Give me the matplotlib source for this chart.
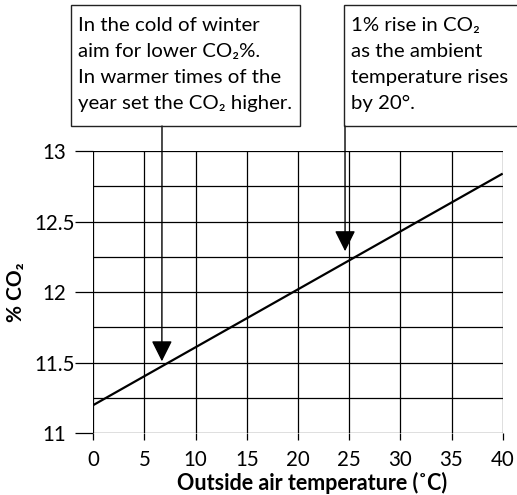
import matplotlib
matplotlib.use("Agg")
import matplotlib.pyplot as plt
from matplotlib.patches import Rectangle
import numpy as np

plt.rcParams['font.family'] = ['Lato', 'DejaVu Sans']

# data
temps = [0, 40]
co2 = [11.2, 12.84]
x_ticks = [0, 5, 10, 15, 20, 25, 30, 35, 40]
y_ticks = [11, 11.5, 12, 12.5, 13]
y_minor = [11.25, 11.75, 12.25, 12.75]
arrow_pts = [(6.7, 11.51), (24.6, 12.29)]
notes = [
    "In the cold of winter\naim for lower CO₂%.\nIn warmer times of the\nyear set the CO₂ higher.",
    "1% rise in CO₂\nas the ambient\ntemperature rises\nby 20°.",
]

W, H = 517, 495
fig = plt.figure(figsize=(W / 100, H / 100), dpi=100)
ax = fig.add_axes([93.3 / W, 1 - 433.3 / H, 409.4 / W, 282.3 / H])

ax.plot(temps, co2, color='black', lw=1.6, solid_capstyle='butt')
ax.set_xlim(0, 40)
ax.set_ylim(11, 13)
ax.set_xticks(x_ticks)
ax.set_yticks(y_ticks)
ax.set_yticks(y_minor, minor=True)
ax.set_yticklabels([f"{v:g}" for v in y_ticks])
ax.grid(True, which='both', color='black', lw=0.9)
ax.set_axisbelow(True)
for s in ax.spines.values():
    s.set_visible(False)
ax.tick_params(axis='y', which='major', length=13, width=0.9, pad=15, labelsize=14.8)
ax.tick_params(axis='y', which='minor', length=0)
ax.tick_params(axis='x', length=5, width=0.9, pad=7, labelsize=14.8)
for lbl in ax.get_yticklabels():
    lbl.set_horizontalalignment('center')

ax.set_ylabel("% CO₂", fontsize=15, fontweight='bold', labelpad=6)
fig.text(312 / W, 1 - 483 / H, "Outside air temperature (˚C)", fontsize=15.5,
         fontweight='bold', ha='center', va='center')

# note boxes (figure pixels)
boxes = [(71, 5, 229, 121), (344, 5, 200, 121)]
for (bx, by, bw, bh), txt in zip(boxes, notes):
    fig.patches.append(Rectangle((bx, H - by - bh), bw, bh, transform=None,
                                 fill=False, edgecolor='#222222', lw=1.0))
    fig.text((bx + 7) / W, 1 - (by + 12) / H, txt, fontsize=14.7, ha='left', va='top',
             linespacing=1.64)

# arrows from box bottom to line
starts_px = [162, 345]
for (xv, yv), sx in zip(arrow_pts, starts_px):
    ax.annotate("", xy=(xv, yv), xycoords='data',
                xytext=(sx, H - 126), textcoords='figure pixels',
                annotation_clip=False,
                arrowprops=dict(arrowstyle='-|>', mutation_scale=32, lw=1.0,
                                color='black', shrinkA=0, shrinkB=0))

fig.savefig("out.png", dpi=100)
